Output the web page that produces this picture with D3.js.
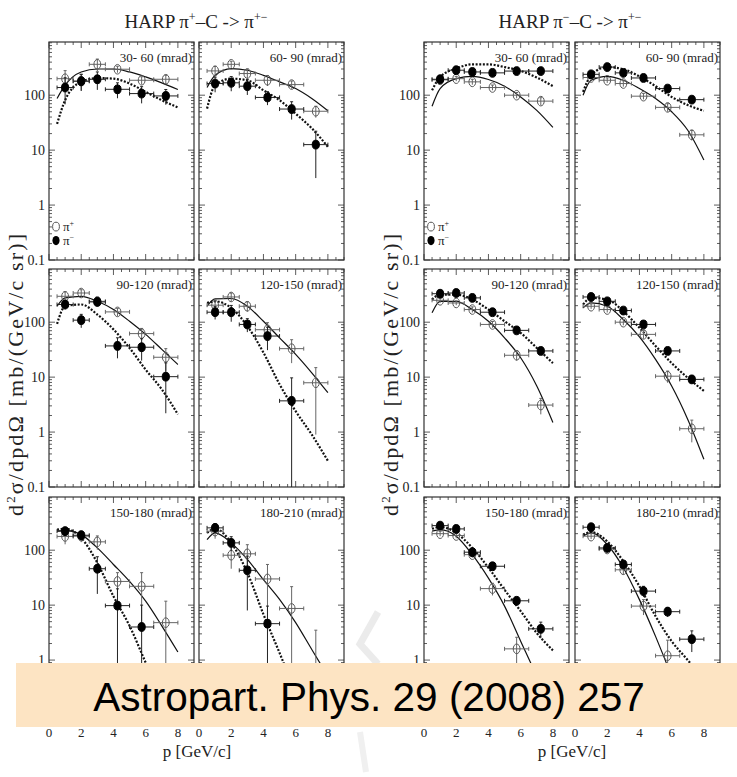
<!DOCTYPE html>
<html>
<head>
<meta charset="utf-8">
<script src="https://cdn.jsdelivr.net/npm/d3@7"></script>
<style>
  body { margin: 0; background: #fff; }
  text { font-family: "Liberation Serif", "DejaVu Serif", serif; fill: #222; }
</style>
</head>
<body>
<svg id="chart" width="737" height="777"></svg>
<script>
// momentum bins (GeV/c) and angular bins (mrad)
var momenta = [1, 2, 3, 4.25, 5.75, 7.25]
var binLow = [0.5, 1.5, 2.5, 3.5, 5, 6.5]
var binHigh = [1.5, 2.5, 3.5, 5, 6.5, 8]
var fitMomenta = [0.5, 1, 2, 3, 4, 5, 6, 7, 8]
var angleBins = ['30- 60', '60- 90', '90-120', '120-150', '150-180', '180-210']
var yTicks = [0.1, 1, 10, 100]
var xTicks = [0, 2, 4, 6, 8]

// pi+ beam on C : produced pi+ (open) and pi- (filled)
var pipBeamPip = [
  [200, 180, 365, 297, 187, 195],
  [277, 365, 248, 187, 156, 51],
  [296, 340, 240, 154, 62, 23],
  [204, 288, 195, 73, 33, 7.9],
  [178, 180, 142, 27, 22, 4.8],
  [222, 81, 86, 30, 8.7, 0.5]
]
var pipBeamPipErr = [
  [80, 60, 90, 40, 30, 35],
  [60, 50, 50, 40, 25, 12],
  [60, 50, 40, 25, 15, 10],
  [50, 50, 40, 25, 15, 7],
  [50, 40, 40, 12, 17, 7],
  [60, 35, 40, 25, 13, 3]
]
var pipBeamPim = [
  [138, 180, 195, 128, 107, 97],
  [163, 168, 146, 91, 56, 12.6],
  [210, 109, 234, 37, 35, 10.2],
  [152, 152, 91, 56, 3.7, null],
  [222, 187, 46, 9.8, 4.0, null],
  [255, 136, 43, 4.6, null, null]
]
var pipBeamPimErr = [
  [70, 60, 70, 40, 36, 30],
  [50, 50, 45, 25, 20, 9.5],
  [40, 30, 40, 15, 15, 8],
  [40, 50, 25, 25, 6, null],
  [40, 35, 30, 10, 6, null],
  [50, 40, 35, 5, null, null]
]
var pipBeamPipFit = [
  [87, 152, 265, 300, 300, 265, 215, 168, 127],
  [138, 230, 305, 285, 230, 175, 132, 87, 52],
  [195, 277, 296, 240, 170, 104, 60, 32, 17],
  [195, 266, 270, 195, 104, 52, 26, 12, 5.2],
  [222, 230, 192, 110, 55, 27, 11.8, 4.2, 1.4],
  [156, 207, 136, 68, 29, 12.7, 4.8, 1.56, 0.51]
]
var pipBeamPimFit = [
  [30, 81, 175, 205, 200, 163, 115, 81, 60],
  [57, 152, 200, 187, 123, 81, 46, 25, 11.5],
  [93, 195, 210, 138, 74, 34, 13.7, 6.0, 2.1],
  [224, 240, 182, 85, 28, 7.4, 2.4, 0.9, 0.3],
  [237, 245, 167, 59, 14.5, 4.2, 0.9, 0.2, 0.05],
  [207, 247, 136, 39, 6.8, 1.35, 0.25, 0.05, 0.01]
]

// pi- beam on C
var pimBeamPip = [
  [190, 200, 175, 138, 100, 78],
  [210, 187, 163, 96, 60, 19],
  [250, 224, 170, 91, 25, 3.1],
  [195, 170, 100, 60, 10.4, 1.15],
  [200, 185, 83, 20, 1.6, null],
  [180, 105, 44, 9.6, 1.2, null]
]
var pimBeamPipErr = [
  [20, 20, 20, 15, 12, 12],
  [20, 20, 20, 12, 10, 4],
  [25, 20, 20, 12, 5, 1],
  [20, 20, 12, 10, 2.5, 0.5],
  [20, 20, 10, 5, 1, null],
  [20, 15, 8, 3, 1.1, null]
]
var pimBeamPim = [
  [195, 285, 265, 255, 275, 275],
  [240, 325, 255, 206, 132, 83],
  [330, 340, 277, 152, 71, 30],
  [288, 240, 163, 91, 30, 9.1],
  [280, 244, 92, 51, 12, 3.7],
  [262, 110, 55, 18, 7.6, 2.4]
]
var pimBeamPimErr = [
  [25, 30, 30, 30, 30, 30],
  [30, 35, 30, 25, 15, 10],
  [35, 35, 30, 20, 10, 4],
  [30, 25, 20, 12, 4, 1.5],
  [30, 30, 12, 7, 2, 1.2],
  [30, 15, 8, 4, 1.5, 1]
]
var pimBeamPipFit = [
  [63, 132, 200, 220, 193, 146, 93, 53, 26],
  [100, 187, 220, 187, 132, 87, 50, 23, 6.6],
  [148, 240, 240, 170, 104, 52, 22.5, 6.9, 1.5],
  [182, 224, 195, 112, 54, 21, 6.9, 1.7, 0.32],
  [222, 237, 180, 83, 31, 9.6, 2.2, 0.5, 0.1],
  [180, 207, 127, 48, 12.6, 2.7, 0.5, 0.08, 0.01]
]
var pimBeamPimFit = [
  [123, 215, 305, 365, 365, 325, 277, 210, 146],
  [115, 230, 325, 297, 220, 146, 93, 66, 52],
  [258, 318, 318, 258, 170, 104, 64, 34, 18],
  [210, 277, 258, 158, 79, 37, 18, 9.7, 5.6],
  [245, 265, 207, 110, 48, 19, 7.8, 3.1, 1.5],
  [192, 213, 145, 63, 22, 6.3, 2.2, 1.0, 0.45]
]

var groups = [
  {beam: '+', left: [49, 199], titleX: 196,
    open: pipBeamPip, openErr: pipBeamPipErr, filled: pipBeamPim, filledErr: pipBeamPimErr,
    solid: pipBeamPipFit, dotted: pipBeamPimFit},
  {beam: '\u2212', left: [424, 575], titleX: 570,
    open: pimBeamPip, openErr: pimBeamPipErr, filled: pimBeamPim, filledErr: pimBeamPimErr,
    solid: pimBeamPipFit, dotted: pimBeamPimFit}
]

var rowTop = [42, 269, 497]
var W = 145, H = 218

var svg = d3.select('#chart')
var x = d3.scaleLinear().domain([0, 9]).range([0, W])
var y = d3.scaleLog().domain([0.1, 930]).range([H, 0])

var line = d3.line()
  .defined(function (d) { return d[1] > 0 })
  .x(function (d) { return x(d[0]) })
  .y(function (d) { return y(d[1]) })
  .curve(d3.curveMonotoneX)

var minor = []
;[0.1, 1, 10, 100].forEach(function (dec) {
  for (var k = 2; k <= 9; k++) minor.push(dec * k)
})

groups.forEach(function (g, gi) {
  // title
  var t = svg.append('text')
    .attr('x', g.titleX).attr('y', 28)
    .attr('text-anchor', 'middle')
    .style('font-size', '19px')
  t.append('tspan').text('HARP \u03c0')
  t.append('tspan').attr('dy', -7).style('font-size', '12px').text(g.beam)
  t.append('tspan').attr('dy', 7).text('\u2013C -> \u03c0')
  t.append('tspan').attr('dy', -7).style('font-size', '12px').text('+\u2212')

  // y label
  var yl = svg.append('text')
    .attr('transform', 'translate(' + (g.left[0] - 26) + ',375) rotate(-90)')
    .attr('text-anchor', 'middle')
    .attr('textLength', 282).attr('lengthAdjust', 'spacing')
    .style('font-size', '22px')
  yl.append('tspan').text('d')
  yl.append('tspan').attr('dy', -8).style('font-size', '13px').text('2')
  yl.append('tspan').attr('dy', 8).text('\u03c3/dpd\u03a9 [mb/(GeV/c sr)]')

  // x label
  svg.append('text')
    .attr('x', g.left[0] + 148).attr('y', 757)
    .attr('text-anchor', 'middle')
    .style('font-size', '17px')
    .text('p [GeV/c]')

  angleBins.forEach(function (label, i) {
    var row = Math.floor(i / 2), col = i % 2
    var p = svg.append('g')
      .attr('transform', 'translate(' + g.left[col] + ',' + rowTop[row] + ')')
    var clipId = 'clip' + gi + '_' + i
    p.append('clipPath').attr('id', clipId)
      .append('rect').attr('width', W).attr('height', H)

    // ticks
    var tk = p.append('g').attr('stroke', '#333').attr('stroke-width', 0.8)
    yTicks.forEach(function (v) {
      tk.append('line').attr('x1', 0).attr('x2', 6).attr('y1', y(v)).attr('y2', y(v))
      tk.append('line').attr('x1', W).attr('x2', W - 6).attr('y1', y(v)).attr('y2', y(v))
    })
    minor.forEach(function (v) {
      if (v > 930) return
      tk.append('line').attr('x1', 0).attr('x2', 3).attr('y1', y(v)).attr('y2', y(v))
      tk.append('line').attr('x1', W).attr('x2', W - 3).attr('y1', y(v)).attr('y2', y(v))
    })
    d3.range(0, 9.01, 0.5).forEach(function (v) {
      var len = (v % 2 === 0) ? 6 : 3
      tk.append('line').attr('x1', x(v)).attr('x2', x(v)).attr('y1', H).attr('y2', H - len)
      tk.append('line').attr('x1', x(v)).attr('x2', x(v)).attr('y1', 0).attr('y2', len)
    })

    p.append('rect').attr('width', W).attr('height', H)
      .attr('fill', 'none').attr('stroke', '#333').attr('stroke-width', 1.2)

    var plot = p.append('g').attr('clip-path', 'url(#' + clipId + ')')

    // fits
    plot.append('path')
      .datum(fitMomenta.map(function (m, k) { return [m, g.solid[i][k]] }))
      .attr('d', line).attr('fill', 'none').attr('stroke', '#111').attr('stroke-width', 1.2)
    plot.append('path')
      .datum(fitMomenta.map(function (m, k) { return [m, g.dotted[i][k]] }))
      .attr('d', line).attr('fill', 'none').attr('stroke', '#111')
      .attr('stroke-width', 2.2).attr('stroke-dasharray', '2,1.6')

    function drawSeries (vals, errs, filled) {
      momenta.forEach(function (m, k) {
        var v = vals[k]
        if (v == null) return
        var e = errs[k]
        var cx = x(m), cy = y(v)
        var lo = v - e > 0 ? y(v - e) : H + 2
        var hi = y(v + e)
        var eb = plot.append('g').attr('stroke', filled ? '#222' : '#666').attr('stroke-width', 1)
        eb.append('line').attr('x1', cx).attr('x2', cx).attr('y1', lo).attr('y2', hi)
        eb.append('line').attr('x1', cx - 1.5).attr('x2', cx + 1.5).attr('y1', hi).attr('y2', hi)
        eb.append('line').attr('x1', x(binLow[k])).attr('x2', x(binHigh[k])).attr('y1', cy).attr('y2', cy)
        eb.append('line').attr('x1', x(binLow[k])).attr('x2', x(binLow[k])).attr('y1', cy - 2).attr('y2', cy + 2)
        eb.append('line').attr('x1', x(binHigh[k])).attr('x2', x(binHigh[k])).attr('y1', cy - 2).attr('y2', cy + 2)
        plot.append('ellipse').attr('cx', cx).attr('cy', cy)
          .attr('rx', filled ? 3.6 : 3.4).attr('ry', filled ? 4.4 : 4.8)
          .attr('fill', filled ? '#000' : 'none')
          .attr('stroke', filled ? '#000' : '#555').attr('stroke-width', 1)
      })
    }
    drawSeries(g.open[i], g.openErr[i], false)
    drawSeries(g.filled[i], g.filledErr[i], true)

    p.append('text')
      .attr('x', W - 2).attr('y', 20)
      .attr('text-anchor', 'end')
      .style('font-size', '13px')
      .text(label + ' (mrad)')

    if (col === 0) {
      yTicks.forEach(function (v) {
        // the bottom-row 0.1 label sits under the citation banner
        if (row === 2 && v < 1) return
        p.append('text').attr('x', -4).attr('y', y(v) + 5)
          .attr('text-anchor', 'end').style('font-size', '14px')
          .text(v === 0.1 ? '0.1' : String(v))
      })
    }
    if (row === 2) {
      xTicks.forEach(function (v) {
        p.append('text').attr('x', x(v)).attr('y', H + 22)
          .attr('text-anchor', 'middle').style('font-size', '13px')
          .text(v)
      })
    }
    if (i === 0) {
      var lg = p.append('g').attr('transform', 'translate(7,' + (y(0.5) + 5) + ')')
      lg.append('ellipse').attr('cx', 0).attr('cy', 0).attr('rx', 3.4).attr('ry', 4.4)
        .attr('fill', 'none').attr('stroke', '#555')
      var tp = lg.append('text').attr('x', 7).attr('y', 4).style('font-size', '13px')
      tp.append('tspan').text('\u03c0')
      tp.append('tspan').attr('dy', -5).style('font-size', '8px').text('+')
      lg.append('ellipse').attr('cx', 0).attr('cy', 14).attr('rx', 3.6).attr('ry', 4.6)
        .attr('fill', '#000')
      var tm = lg.append('text').attr('x', 7).attr('y', 18).style('font-size', '13px')
      tm.append('tspan').text('\u03c0')
      tm.append('tspan').attr('dy', -5).style('font-size', '8px').text('\u2212')
    }
  })
})

// faint logo stroke behind the banner
svg.append('path')
  .attr('d', 'M378,612 L360,644 L378,664')
  .attr('fill', 'none').attr('stroke', '#ebebeb').attr('stroke-width', 7)
svg.append('path')
  .attr('d', 'M360,732 L366,772')
  .attr('fill', 'none').attr('stroke', '#f0f0f0').attr('stroke-width', 6)

// citation banner
svg.append('rect')
  .attr('x', 16).attr('y', 663).attr('width', 721).attr('height', 64)
  .attr('fill', '#fde4c3')
svg.append('text')
  .attr('x', 369).attr('y', 711)
  .attr('text-anchor', 'middle')
  .style('font-family', '"Liberation Sans", Arial, sans-serif')
  .style('font-size', '40.5px').style('fill', '#000')
  .text('Astropart. Phys. 29 (2008) 257')
</script>
</body>
</html>
